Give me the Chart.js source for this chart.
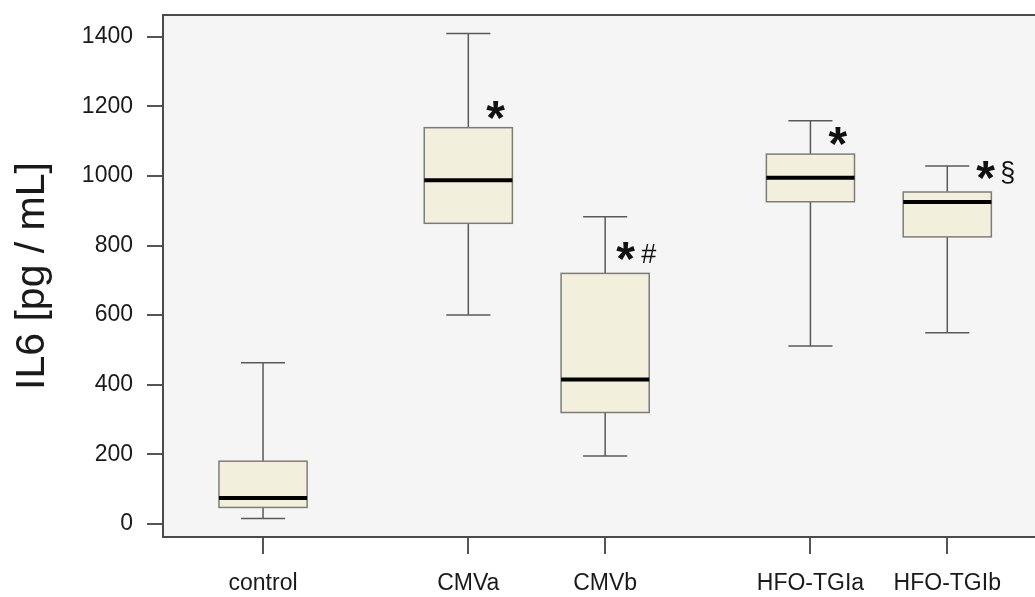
<!DOCTYPE html>
<html>
<head>
<meta charset="utf-8">
<script src="https://cdn.jsdelivr.net/npm/chart.js@4.4.1/dist/chart.umd.min.js"></script>
<style>
  html, body { margin: 0; padding: 0; background: #fff; }
  #wrap { width: 1035px; height: 597px; position: relative; }
</style>
</head>
<body>
<div id="wrap"><canvas id="il6Chart"></canvas></div>
<script>
// IL6 box plot per ventilation group

const groups = ['control', 'CMVa', 'CMVb', 'HFO-TGIa', 'HFO-TGIb'];
const whiskerLow = [15, 600, 195, 511, 549];
const q1 = [47, 864, 320, 926, 825];
const median = [74, 988, 415, 995, 925];
const q3 = [180, 1139, 720, 1063, 954];
const whiskerHigh = [463, 1410, 883, 1159, 1029];
const marks = ['', '*', '*#', '*', '*§'];
const yTicks = [0, 200, 400, 600, 800, 1000, 1200, 1400];

// layout only: slot of each group on the x axis (gaps between the blocks)
const slot = [0, 1.5, 2.5, 4, 5];
const markShift = [0, 18, 11, 18, 29];   // px right of box centre
const markLift = [0, 18, 22, 18, 22];    // px above box top

const FONT = "'Liberation Sans', Arial, Helvetica, sans-serif";

const boxPlot = {
  id: 'boxPlot',
  beforeDraw(chart) {
    const { ctx, chartArea: a } = chart;
    ctx.save();
    ctx.fillStyle = '#f5f5f5';
    ctx.fillRect(a.left, a.top, a.right - a.left, a.bottom - a.top);
    ctx.restore();
  },
  afterDatasetsDraw(chart) {
    const { ctx, scales: { x, y } } = chart;
    ctx.save();
    groups.forEach((g, i) => {
      const cx = x.getPixelForValue(slot[i]);
      const half = x.getPixelForValue(slot[i] + 0.322) - cx;
      const capHalf = x.getPixelForValue(slot[i] + 0.161) - cx;
      const yLo = y.getPixelForValue(whiskerLow[i]);
      const yQ1 = y.getPixelForValue(q1[i]);
      const yMed = y.getPixelForValue(median[i]);
      const yQ3 = y.getPixelForValue(q3[i]);
      const yHi = y.getPixelForValue(whiskerHigh[i]);

      // whiskers and caps
      ctx.strokeStyle = '#5a5a5a';
      ctx.lineWidth = 1.5;
      ctx.beginPath();
      ctx.moveTo(cx, yHi); ctx.lineTo(cx, yQ3);
      ctx.moveTo(cx, yQ1); ctx.lineTo(cx, yLo);
      ctx.moveTo(cx - capHalf, yHi); ctx.lineTo(cx + capHalf, yHi);
      ctx.moveTo(cx - capHalf, yLo); ctx.lineTo(cx + capHalf, yLo);
      ctx.stroke();

      // box
      ctx.fillStyle = '#f2f0dc';
      ctx.fillRect(cx - half, yQ3, half * 2, yQ1 - yQ3);
      ctx.strokeStyle = '#7d7d78';
      ctx.lineWidth = 1.5;
      ctx.strokeRect(cx - half, yQ3, half * 2, yQ1 - yQ3);

      // median
      ctx.strokeStyle = '#000';
      ctx.lineWidth = 4;
      ctx.beginPath();
      ctx.moveTo(cx - half, yMed);
      ctx.lineTo(cx + half, yMed);
      ctx.stroke();

      // significance marks
      const m = marks[i];
      if (!m) return;
      const my = yQ3 - markLift[i];
      ctx.fillStyle = '#111';
      ctx.font = 'bold 48px ' + FONT;
      ctx.textAlign = 'left';
      ctx.textBaseline = 'alphabetic';
      const star = ctx.measureText('*');
      const asc = star.actualBoundingBoxAscent;
      const desc = star.actualBoundingBoxDescent;
      const left = cx + markShift[i];
      ctx.fillText('*', left + star.actualBoundingBoxLeft, my + (asc - desc) / 2);
      const starRight = left + star.actualBoundingBoxLeft + star.actualBoundingBoxRight;
      if (m.length > 1) {
        ctx.font = '27px ' + FONT;
        const suf = ctx.measureText(m.slice(1));
        const sa = suf.actualBoundingBoxAscent;
        const sd = suf.actualBoundingBoxDescent;
        ctx.fillText(m.slice(1), starRight + 6 + suf.actualBoundingBoxLeft, my + 2 + (sa - sd) / 2);
      }
    });
    ctx.restore();
  },
  afterDraw(chart) {
    const { ctx, chartArea: a } = chart;
    ctx.save();
    ctx.strokeStyle = '#4a4a4a';
    ctx.lineWidth = 2;
    ctx.beginPath();
    ctx.moveTo(a.left, a.top);
    ctx.lineTo(a.right, a.top);
    ctx.stroke();
    ctx.restore();
  }
};

const ctx = document.getElementById('il6Chart').getContext('2d');
new Chart(ctx, {
  type: 'scatter',
  data: {
    datasets: [{
      data: median.map((v, i) => ({ x: slot[i], y: v })),
      pointRadius: 0,
      showLine: false
    }]
  },
  options: {
    responsive: true,
    maintainAspectRatio: false,
    animation: false,
    events: [],
    layout: { padding: { top: 15, right: 0, left: 0, bottom: 0 } },
    plugins: {
      legend: { display: false },
      tooltip: { enabled: false }
    },
    scales: {
      x: {
        type: 'linear',
        min: -0.731,
        max: 5.641,
        afterFit: (scale) => {
          scale.height = 60;
          scale.paddingLeft = 0;
          scale.paddingRight = 0;
        },
        afterBuildTicks: (scale) => { scale.ticks = slot.map(v => ({ value: v })); },
        grid: { drawOnChartArea: false, tickLength: 17, color: '#555', lineWidth: 2 },
        border: { display: true, color: '#4a4a4a', width: 2 },
        ticks: {
          autoSkip: false,
          maxRotation: 0,
          padding: 16,
          color: '#1a1a1a',
          font: { family: FONT, size: 23 },
          callback: (value, index) => groups[index]
        }
      },
      y: {
        min: -38,
        max: 1463,
        afterFit: (scale) => {
          scale.width = 163;
          scale.paddingTop = 0;
          scale.paddingBottom = 0;
        },
        afterBuildTicks: (scale) => { scale.ticks = yTicks.map(v => ({ value: v })); },
        grid: { drawOnChartArea: false, tickLength: 16, color: '#555', lineWidth: 2 },
        border: { display: true, color: '#4a4a4a', width: 2 },
        ticks: {
          padding: 14,
          color: '#1a1a1a',
          font: { family: FONT, size: 23 },
          callback: (value) => String(value)
        },
        title: {
          display: true,
          text: 'IL6 [pg / mL]',
          color: '#1a1a1a',
          font: { family: FONT, size: 41, lineHeight: 1 },
          padding: { top: 12, bottom: 0 }
        }
      }
    }
  },
  plugins: [boxPlot]
});
</script>
</body>
</html>
